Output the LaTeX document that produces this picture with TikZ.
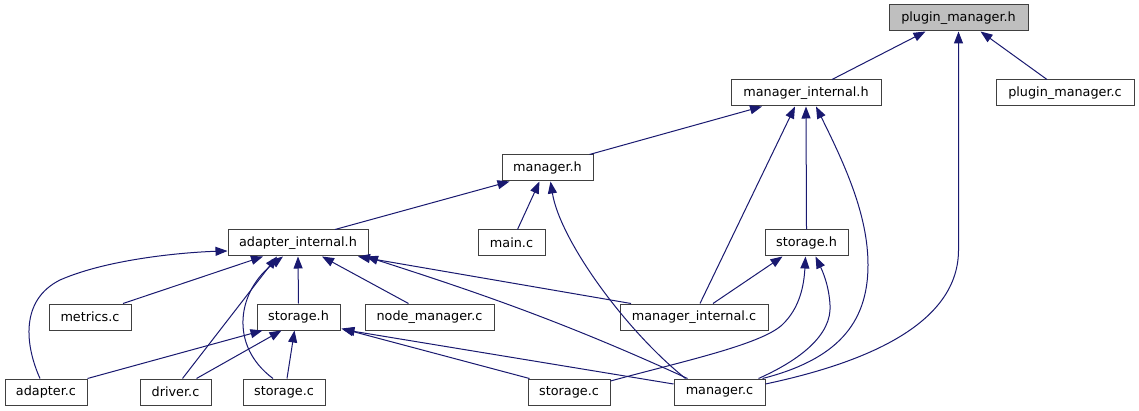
\documentclass[tikz,border=0pt]{standalone}
\usepackage{fontspec}
\setmainfont{DejaVu Sans}
\usetikzlibrary{arrows.meta}
\definecolor{edgeblue}{HTML}{191970}
\definecolor{boxline}{HTML}{404040}
\definecolor{focusfill}{HTML}{BFBFBF}
\begin{document}
\begin{tikzpicture}[x=1pt,y=-1pt,
  box/.style={draw=boxline, line width=1pt, fill=white, inner sep=0pt,
    minimum height=26pt, font=\fontsize{12.8}{15}\selectfont},
  incl/.style={draw=edgeblue, line width=1pt,
    -{Triangle[length=12pt,width=9pt]}}]
\useasboundingbox[fill=white] (0,0) rectangle (1139,411);

% header files and sources
\node[box, fill=focusfill, minimum width=139pt] (pmh) at (958.5,18) {plugin\_manager.h};
\node[box, minimum width=150pt] (mih)  at (806,93)    {manager\_internal.h};
\node[box, minimum width=138pt] (pmc)  at (1065,93)   {plugin\_manager.c};
\node[box, minimum width=91pt]  (mh)   at (547.5,168) {manager.h};
\node[box, minimum width=140pt] (aih)  at (298,243)   {adapter\_internal.h};
\node[box, minimum width=67pt]  (main) at (511.5,243) {main.c};
\node[box, minimum width=83pt]  (shu)  at (806.5,243) {storage.h};
\node[box, minimum width=82pt]  (met)  at (90,317)    {metrics.c};
\node[box, minimum width=83pt]  (shl)  at (298.5,317) {storage.h};
\node[box, minimum width=129pt] (nm)   at (429.5,317) {node\_manager.c};
\node[box, minimum width=148pt] (mic)  at (694,317)   {manager\_internal.c};
\node[box, minimum width=82pt]  (ad)   at (46,392)    {adapter.c};
\node[box, minimum width=71pt]  (drv)  at (175.5,392) {driver.c};
\node[box, minimum width=82pt]  (scl)  at (284,392)   {storage.c};
\node[box, minimum width=82pt]  (scr)  at (569,392)   {storage.c};
\node[box, minimum width=91pt]  (mc)   at (719.5,392) {manager.c};

% includes of plugin_manager.h
\draw[incl] ([xshift=26pt]mih.north) -- ([xshift=-33pt]pmh.south);
\draw[incl] ([xshift=-18pt]pmc.north) -- ([xshift=22pt]pmh.south);
\draw[incl] ([yshift=8pt]mc.east) .. controls (850,366) and (958.5,330) .. (958.5,250) -- (pmh.south);

% includes of manager_internal.h
\draw[incl] ([xshift=42pt]mh.north) -- ([xshift=-44pt]mih.south);
\draw[incl] ([xshift=6pt]mic.north) -- ([xshift=-11pt]mih.south);
\draw[incl] (shu.north) -- (mih.south);
\draw[incl] ([xshift=43pt]mc.north) .. controls (835,360) and (868,325) .. (868,265)
  .. controls (868,215) and (845,165) .. ([xshift=10pt]mih.south);

% includes of manager.h
\draw[incl] ([xshift=37pt]aih.north) -- ([xshift=-38pt]mh.south);
\draw[incl] ([xshift=6pt]main.north) -- ([xshift=-8pt]mh.south);
\draw[incl] ([xshift=-34pt]mc.north) .. controls (625,330) and (560,240) .. ([xshift=3pt]mh.south);

% includes of adapter_internal.h
\draw[incl] ([xshift=-6pt]ad.north) .. controls (25,345) and (20,300) .. (60,280)
  .. controls (110,258) and (190,252) .. ([yshift=-8pt]aih.west);
\draw[incl] ([xshift=33pt]met.north) -- ([xshift=-35pt]aih.south);
\draw[incl] ([xshift=7pt]drv.north) -- ([xshift=-21pt]aih.south);
\draw[incl] ([xshift=-11pt]scl.north) .. controls (228,345) and (238,290) .. ([xshift=-15pt]aih.south);
\draw[incl] (shl.north) -- (aih.south);
\draw[incl] ([xshift=-21pt]nm.north) -- ([xshift=24pt]aih.south);
\draw[incl] ([xshift=-63pt]mic.north) -- ([xshift=60pt]aih.south);
\draw[incl] ([xshift=-32pt]mc.north) .. controls (560,320) and (470,290) .. ([xshift=68pt]aih.south);

% includes of the lower storage.h
\draw[incl] (ad.north east) -- ([xshift=-36pt]shl.south);
\draw[incl] ([xshift=21pt]drv.north) -- ([xshift=-17pt]shl.south);
\draw[incl] ([xshift=3pt]scl.north) -- ([xshift=-4pt]shl.south);
\draw[incl] ([xshift=2pt]scr.north west) -- ([xshift=1pt,yshift=2pt]shl.south east);
\draw[incl] ([yshift=8pt]mc.west) -- ([xshift=2pt,yshift=1pt]shl.south east);

% includes of the upper storage.h
\draw[incl] ([xshift=19pt]mic.north) -- ([xshift=-24pt]shu.south);
\draw[incl] ([yshift=11pt]scr.east) .. controls (680,362) and (760,345) .. (782,325)
  .. controls (800,308) and (804,285) .. ([xshift=-1pt]shu.south);
\draw[incl] ([xshift=39pt]mc.north) .. controls (800,360) and (832,335) .. (830,305)
  .. controls (829,285) and (822,270) .. ([xshift=9pt]shu.south);
\end{tikzpicture}
\end{document}
